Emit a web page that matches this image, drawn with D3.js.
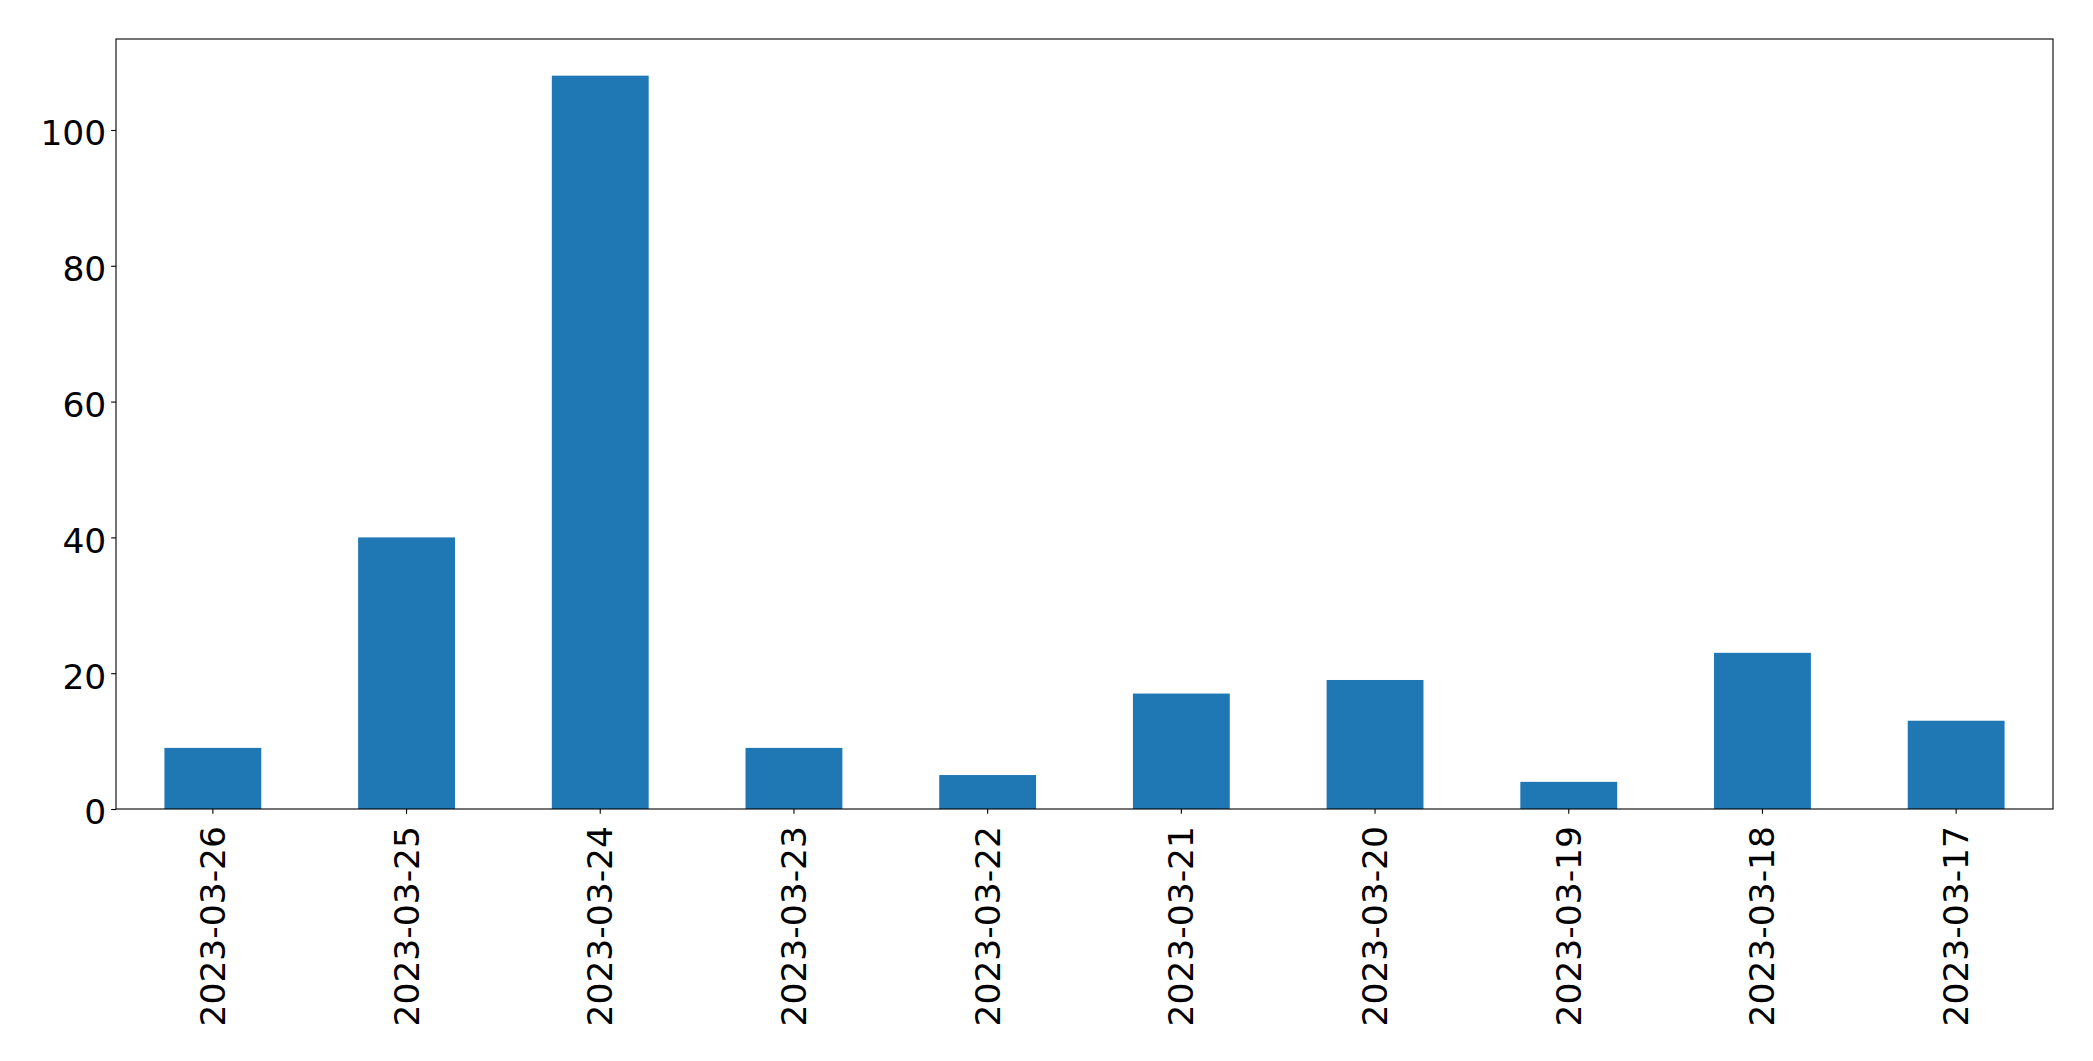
<!DOCTYPE html>
<html>
<head>
<meta charset="utf-8">
<script src="https://cdn.jsdelivr.net/npm/d3@7"></script>
<style>
  html, body { margin: 0; padding: 0; background: #fff; }
  svg { display: block; }
  text { font-family: "DejaVu Sans", sans-serif; }
</style>
</head>
<body>
<script>
const categories = ["2023-03-26","2023-03-25","2023-03-24","2023-03-23","2023-03-22","2023-03-21","2023-03-20","2023-03-19","2023-03-18","2023-03-17"];
const values = [9, 40, 108, 9, 5, 17, 19, 4, 23, 13];
const yTicks = [0, 20, 40, 60, 80, 100];

const W = 2093, H = 1061;
const margin = {left: 116, right: W - 2053, top: 39, bottom: H - 809};
const fontSize = 34.5;
const tickLen = 4.86;
const pad = 4.86;

const svg = d3.select("body").append("svg").attr("width", W).attr("height", H);

const x = d3.scaleBand()
  .domain(categories)
  .range([margin.left, W - margin.right])
  .paddingInner(0.5)
  .paddingOuter(0.25);

const yMax = d3.max(values) * 1.05;
const y = d3.scaleLinear().domain([0, yMax]).range([H - margin.bottom, margin.top]);

svg.append("g").selectAll("rect")
  .data(values)
  .join("rect")
  .attr("x", (d, i) => x(categories[i]))
  .attr("y", d => y(d))
  .attr("width", x.bandwidth())
  .attr("height", d => y(0) - y(d))
  .attr("fill", "#1f77b4");

// Frame
svg.append("rect")
  .attr("x", margin.left).attr("y", margin.top)
  .attr("width", W - margin.right - margin.left)
  .attr("height", H - margin.bottom - margin.top)
  .attr("fill", "none").attr("stroke", "#000").attr("stroke-width", 1.1);

// Y axis
const yAxis = svg.append("g")
  .attr("transform", `translate(${margin.left},0)`)
  .call(d3.axisLeft(y).tickValues(yTicks).tickSize(tickLen).tickPadding(pad).tickFormat(d3.format("d")));
yAxis.select(".domain").remove();
yAxis.selectAll(".tick line").attr("stroke", "#000").attr("stroke-width", 1.1);
yAxis.selectAll(".tick text")
  .attr("font-size", fontSize)
  .attr("font-family", "DejaVu Sans")
  .attr("fill", "#000")
  .attr("dy", "0.43em");

// X axis
const xAxis = svg.append("g")
  .attr("transform", `translate(0,${H - margin.bottom})`)
  .call(d3.axisBottom(x).tickSize(tickLen).tickPadding(pad));
xAxis.select(".domain").remove();
xAxis.selectAll(".tick line").attr("stroke", "#000").attr("stroke-width", 1.1);
xAxis.selectAll(".tick text")
  .attr("font-size", fontSize)
  .attr("font-family", "DejaVu Sans")
  .attr("fill", "#000")
  .attr("text-anchor", "end")
  .attr("dy", null)
  .attr("dominant-baseline", "central")
  .attr("y", 0)
  .attr("transform", `translate(0,17) rotate(-90)`);
</script>
</body>
</html>
